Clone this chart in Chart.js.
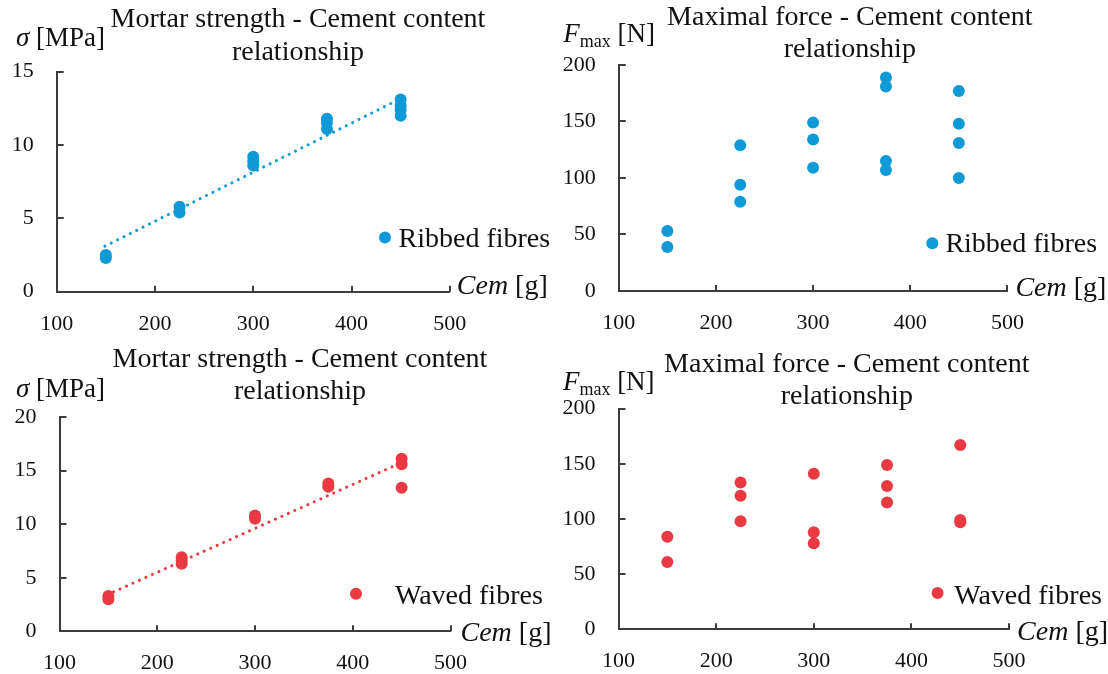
<!DOCTYPE html>
<html>
<head>
<meta charset="utf-8">
<script src="https://cdn.jsdelivr.net/npm/chart.js@4.4.1/dist/chart.umd.min.js"></script>
<style>
	body { margin: 0; background: #fff; }
	.wrap { position: relative; width: 1108px; height: 674px; background: #fff; }
	.wrap canvas { position: absolute; }
</style>
</head>
<body>
<div class="wrap">
	<canvas id="c1" width="554" height="337" style="left:0;top:0"></canvas>
	<canvas id="c2" width="554" height="337" style="left:554px;top:0"></canvas>
	<canvas id="c3" width="554" height="337" style="left:0;top:337px"></canvas>
	<canvas id="c4" width="554" height="337" style="left:554px;top:337px"></canvas>
</div>
<script>
const cement = [150, 225, 300, 375, 450];
const xTicks = [100, 200, 300, 400, 500];
const ribbedStrengthTicks = [0, 5, 10, 15];
const wavedStrengthTicks = [0, 5, 10, 15, 20];
const forceTicks = [0, 50, 100, 150, 200];

// one list of readings per cement content
const ribbedStrength = [[2.5, 2.3], [5.8, 5.4], [9.2, 8.9, 8.6], [11.8, 11.5, 11.1], [13.1, 12.7, 12.4, 12.0]];
const ribbedForce = [[53, 39], [129, 94, 79], [149, 134, 109], [189, 181, 115, 107], [177, 148, 131, 100]];
const wavedStrength = [[3.3, 3.0], [6.9, 6.6, 6.3], [10.8, 10.5], [13.8, 13.5], [16.1, 15.6, 13.4]];
const wavedForce = [[84, 61], [133, 121, 98], [141, 88, 78], [149, 130, 115], [167, 99, 97]];

const ribbedTrendX = [149, 448];
const ribbedTrendY = [3.1, 13.1];
const wavedTrendX = [148.6, 447.5];
const wavedTrendY = [3.4, 15.65];

const titleStrength = ['Mortar strength - Cement content', 'relationship'];
const titleForce = ['Maximal force - Cement content', 'relationship'];

const BLUE = '#0f9ad7';
const RED = '#e93a43';
const AXIS = '#3c3c3c';
const TEXT = '#111';
const FONT = '"Liberation Serif", "Times New Roman", serif';

class Front {
	constructor (){
		const _ = this;
		_.init();
	}

	points(values){
		let out = [];
		for (let i = 0; i < cement.length; i++) {
			values[i].forEach(v => out.push({x: cement[i], y: v}));
		}
		return out;
	}

	trend(xs, ys){
		return xs.map((x, i) => ({x: x, y: ys[i]}));
	}

	drawRuns(ctx, runs, x, y){
		runs.forEach(r => {
			ctx.font = (r.italic ? 'italic ' : '') + r.size + 'px ' + FONT;
			ctx.fillText(r.text, x, y + (r.dy || 0));
			x += ctx.measureText(r.text).width;
		});
	}

	decoPlugin(p){
		const _ = this;
		return {
			id: 'deco',
			afterLayout(chart){
				// the reference title sits right of the canvas centre
				const tb = chart.titleBlock;
				if (!tb) return;
				const d = p.titleX - (tb.left + tb.right) / 2;
				tb.left += d;
				tb.right += d;
			},
			afterDraw(chart){
				const ctx = chart.ctx;
				const a = chart.chartArea;
				const xs = chart.scales.x, ys = chart.scales.y;
				ctx.save();
				ctx.strokeStyle = AXIS;
				ctx.lineWidth = 2;
				ctx.beginPath();
				xs.ticks.forEach(t => {
					if (t.value === xs.min) return;
					let px = Math.round(xs.getPixelForValue(t.value));
					ctx.moveTo(px, a.bottom);
					ctx.lineTo(px, a.bottom - 6);
				});
				ys.ticks.forEach(t => {
					if (t.value === ys.min) return;
					let py = Math.round(ys.getPixelForValue(t.value));
					ctx.moveTo(a.left, py);
					ctx.lineTo(a.left + 7, py);
				});
				ctx.stroke();

				ctx.fillStyle = TEXT;
				ctx.textAlign = 'left';
				ctx.textBaseline = 'alphabetic';
				_.drawRuns(ctx, p.yName, p.yPos.x, p.yPos.y);
				_.drawRuns(ctx, [
					{text: 'Cem', italic: true, size: 28},
					{text: ' [g]', size: 28}
				], a.right + p.xPos.dx, a.bottom + p.xPos.dy);

				ctx.fillStyle = p.color;
				ctx.beginPath();
				ctx.arc(p.legend.mx, p.legend.my, 6, 0, Math.PI * 2);
				ctx.fill();
				ctx.fillStyle = TEXT;
				ctx.font = '28px ' + FONT;
				ctx.fillText(p.label, p.legend.tx, p.legend.ty);
				ctx.restore();
			}
		};
	}

	build(p){
		const _ = this;
		const W = 554, H = 337;
		new Chart(document.getElementById(p.id), {
			type: 'scatter',
			data: {
				datasets: [{
					label: p.label,
					data: _.points(p.values),
					backgroundColor: p.color,
					borderWidth: 0,
					pointRadius: 6,
					pointHoverRadius: 6
				}, {
					type: 'line',
					label: 'trend',
					data: p.trend ? _.trend(p.trend[0], p.trend[1]) : [],
					borderColor: p.color,
					borderWidth: 3,
					borderDash: [0.1, 7],
					borderCapStyle: 'round',
					pointRadius: 0,
					fill: false
				}]
			},
			options: {
				responsive: false,
				animation: false,
				events: [],
				layout: {padding: 0},
				plugins: {
					legend: {display: false},
					tooltip: {enabled: false},
					title: {
						display: true,
						text: p.title,
						color: TEXT,
						font: {family: FONT, size: 28, weight: 'normal', lineHeight: 1.157},
						padding: {top: p.titlePad[0], bottom: p.titlePad[1]}
					}
				},
				scales: {
					x: {
						type: 'linear',
						min: 100,
						max: 500,
						afterBuildTicks: s => { s.ticks = xTicks.map(v => ({value: v})); },
						afterFit: s => { s.height = H - p.area.b; },
						grid: {display: false, drawTicks: false},
						border: {display: true, color: AXIS, width: 2},
						ticks: {color: TEXT, font: {family: FONT, size: 22}, padding: 19, maxRotation: 0}
					},
					y: {
						type: 'linear',
						min: p.yTicks[0],
						max: p.yTicks[p.yTicks.length - 1],
						afterBuildTicks: s => { s.ticks = p.yTicks.map(v => ({value: v})); },
						afterFit: s => { s.width = p.area.l; },
						grid: {display: false, drawTicks: false},
						border: {display: true, color: AXIS, width: 2},
						ticks: {color: TEXT, font: {family: FONT, size: 22}, padding: 23}
					},
					side: {
						type: 'linear',
						position: 'right',
						min: 0,
						max: 1,
						afterFit: s => { s.width = W - p.area.r; },
						grid: {display: false, drawTicks: false},
						border: {display: false},
						ticks: {display: false}
					}
				}
			},
			plugins: [_.decoPlugin(p)]
		});
	}

	init(){
		const _ = this;
		const sigma = [{text: '\u03c3', italic: true, size: 27}, {text: ' [MPa]', size: 27}];
		const fmax = [{text: 'F', italic: true, size: 27}, {text: 'max', size: 18, dy: 5}, {text: ' [N]', size: 27}];

		_.build({
			id: 'c1', label: 'Ribbed fibres', color: BLUE, title: titleStrength, titleX: 298,
			values: ribbedStrength, yTicks: ribbedStrengthTicks, trend: [ribbedTrendX, ribbedTrendY],
			area: {l: 56.7, r: 449.8, b: 291.7}, titlePad: [3.7, 3.2],
			yName: sigma, yPos: {x: 16, y: 46}, xPos: {dx: 7, dy: 2},
			legend: {mx: 385, my: 237.5, tx: 398.5, ty: 247}
		});
		_.build({
			id: 'c2', label: 'Ribbed fibres', color: BLUE, title: titleForce, titleX: 295.8,
			values: ribbedForce, yTicks: forceTicks, trend: null,
			area: {l: 64.8, r: 453.4, b: 291}, titlePad: [1.3, -1.1],
			yName: fmax, yPos: {x: 9.3, y: 41.5}, xPos: {dx: 8, dy: 5},
			legend: {mx: 378.3, my: 243.3, tx: 391.4, ty: 252}
		});
		_.build({
			id: 'c3', label: 'Waved fibres', color: RED, title: titleStrength, titleX: 300,
			values: wavedStrength, yTicks: wavedStrengthTicks, trend: [wavedTrendX, wavedTrendY],
			area: {l: 59.5, r: 450.5, b: 294.3}, titlePad: [6.1, 9.1],
			yName: sigma, yPos: {x: 16, y: 60}, xPos: {dx: 10, dy: 10},
			legend: {mx: 356, my: 256.7, tx: 395, ty: 267}
		});
		_.build({
			id: 'c4', label: 'Waved fibres', color: RED, title: titleForce, titleX: 292.8,
			values: wavedForce, yTicks: forceTicks, trend: null,
			area: {l: 64.5, r: 455.1, b: 292.3}, titlePad: [11.3, -4.4],
			yName: fmax, yPos: {x: 8.9, y: 53.3}, xPos: {dx: 8, dy: 11},
			legend: {mx: 383.6, my: 256, tx: 400.2, ty: 267}
		});
	}
}
new Front();
</script>
</body>
</html>
